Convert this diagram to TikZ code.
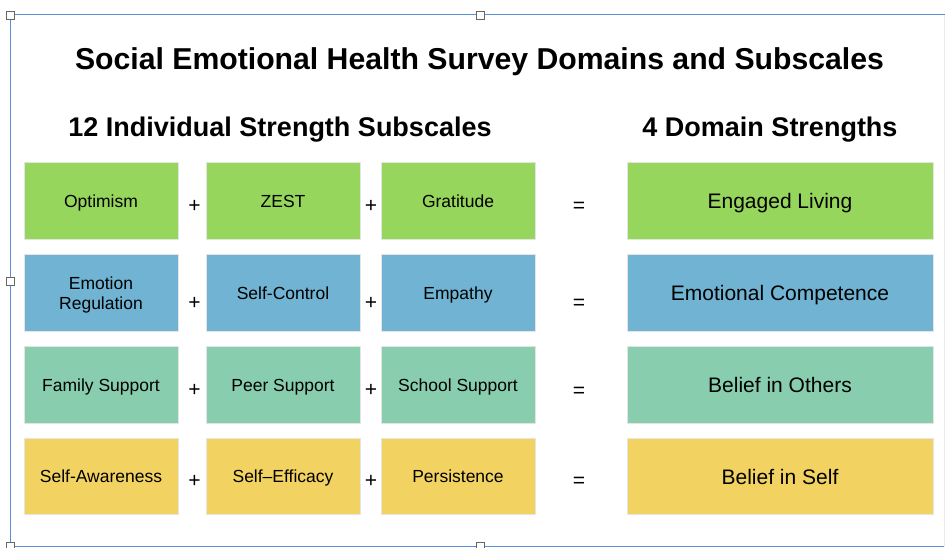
\documentclass[tikz,border=0pt]{standalone}
\usepackage{fontspec}
\setmainfont{Liberation Sans}
\usetikzlibrary{shadows}
\definecolor{cgreen}{HTML}{96D65C}
\definecolor{cblue}{HTML}{70B3D3}
\definecolor{cteal}{HTML}{88CEAE}
\definecolor{cyellow}{HTML}{F2D362}
\definecolor{selblue}{HTML}{5B8DD9}
\begin{document}
\begin{tikzpicture}[x=1pt,y=-1pt,
  cellbase/.style={rectangle, minimum width=154pt, minimum height=76.5pt, inner sep=0pt,
    align=center, font=\fontsize{17.5}{21}\selectfont,
    drop shadow={opacity=0.18, shadow xshift=0.6pt, shadow yshift=-0.6pt},
    draw=black!10, line width=0.6pt},
  cell/.style={cellbase, text height=12.6pt, text depth=0pt},
  dom/.style={cellbase, minimum width=306pt, font=\fontsize{21}{25}\selectfont, text height=15.1pt, text depth=0pt},
  op/.style={inner sep=0pt, anchor=base, font=\fontsize{21}{24}\selectfont},
  heading/.style={inner sep=0pt, anchor=base, font=\bfseries\fontsize{27}{30}\selectfont},
  handle/.style={draw=black!60, fill=white, line width=0.8pt, minimum size=8pt, inner sep=0pt}
]
\useasboundingbox (0,0) rectangle (945,548);
\fill[white] (0,0) rectangle (945,548);
% selection frame
\draw[selblue, line width=1pt] (945,15) -- (10.5,15) -- (10.5,546.5) -- (945,546.5);
\draw[black!8, line width=0.6pt] (944,15) -- (944,546.5);
% titles
\node[inner sep=0pt, anchor=base, font=\bfseries\fontsize{30.2}{34}\selectfont] (title) at (479.5,69.5) {Social Emotional Health Survey Domains and Subscales};
\node[heading] (hleft) at (280,137) {12 Individual Strength Subscales};
\node[heading] (hright) at (770,137) {4 Domain Strengths};
% row 1
\node[cell, fill=cgreen] (a1) at (101,201) {Optimism};
\node[cell, fill=cgreen] (b1) at (283,201) {ZEST};
\node[cell, fill=cgreen] (c1) at (458,201) {Gratitude};
\node[dom, fill=cgreen] (d1) at (780,201) {Engaged Living};
% row 2
\node[cellbase, fill=cblue] (a2) at (101,293) {};
\node[inner sep=0pt, align=center, font=\fontsize{17.5}{21}\selectfont] (a2t) at (101,295) {Emotion\\[-0.5pt]Regulation};
\node[cell, fill=cblue] (b2) at (283,293) {Self-Control};
\node[cell, fill=cblue] (c2) at (458,293) {Empathy};
\node[dom, fill=cblue] (d2) at (780,293) {Emotional Competence};
% row 3
\node[cell, fill=cteal] (a3) at (101,385) {Family Support};
\node[cell, fill=cteal] (b3) at (283,385) {Peer Support};
\node[cell, fill=cteal] (c3) at (458,385) {School Support};
\node[dom, fill=cteal] (d3) at (780,385) {Belief in Others};
% row 4
\node[cell, fill=cyellow] (a4) at (101,476.5) {Self-Awareness};
\node[cell, fill=cyellow] (b4) at (283,476.5) {Self--Efficacy};
\node[cell, fill=cyellow] (c4) at (458,476.5) {Persistence};
\node[dom, fill=cyellow] (d4) at (780,476.5) {Belief in Self};
% operators
\foreach \r/\y/\ye in {1/213/213, 2/309.5/309.5, 3/396/397.5, 4/487.5/487.5} {
  \node[op] (p\r a) at (194.5,\y) {+};
  \node[op] (p\r b) at (371,\y) {+};
  \node[op] (e\r) at (579,\ye) {=};
}
% handles
\node[handle] (h1) at (10.5,15) {};
\node[handle] (h2) at (480,15) {};
\node[handle] (h3) at (10.5,281) {};
\node[handle] (h4) at (10.5,546.5) {};
\node[handle] (h5) at (480,546.5) {};
\end{tikzpicture}
\end{document}
